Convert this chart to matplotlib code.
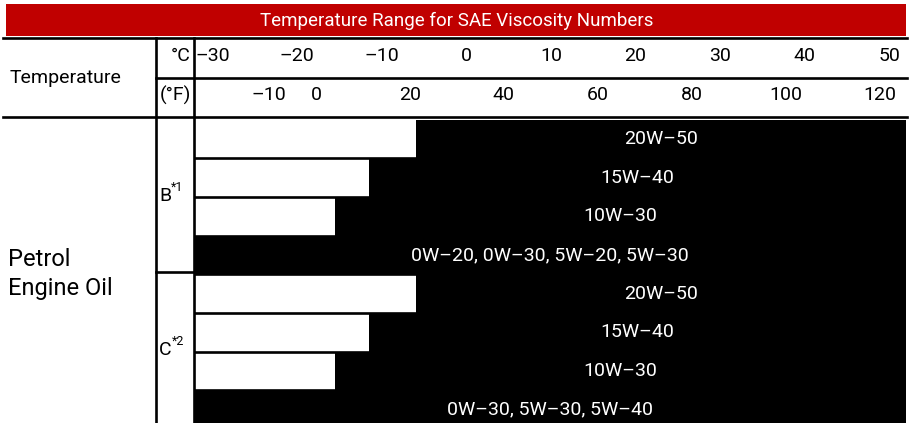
import numpy as np
import matplotlib
matplotlib.use("Agg")
import matplotlib.pyplot as plt
import matplotlib.transforms as mtransforms
from matplotlib.patches import Rectangle

plt.rcParams['font.family'] = ['Roboto', 'DejaVu Sans']

# ---- data ----
title = "Temperature Range for SAE Viscosity Numbers"
celsius_ticks = [-30, -20, -10, 0, 10, 20, 30, 40, 50]
fahrenheit_ticks = [-10, 0, 20, 40, 60, 80, 100, 120]
groups = ["B", "C"]
group_notes = ["*1", "*2"]
grades = ["20W–50", "15W–40", "10W–30", "0W–20, 0W–30, 5W–20, 5W–30",
          "20W–50", "15W–40", "10W–30", "0W–30, 5W–30, 5W–40"]
# lowest usable temperature in °C (None = whole range)
low_c = [-6, -11.5, -15.5, None, -6, -11.5, -15.5, None]
oil_label = "Petrol\nEngine Oil"

W, H = 914, 423
fig = plt.figure(figsize=(W / 100, H / 100), dpi=100)

# bar area, x in °C
T_MIN, T_MAX = -32.2, 52.0
ax = fig.add_axes([194 / W, 0, 712 / W, (H - 118) / H])
ax.set_xlim(T_MIN, T_MAX)
ax.set_ylim(7.34, -0.54)
ax.set_facecolor('white')
ax.axis('off')

rows = np.arange(len(grades))
for r, lo, name in zip(rows, low_c, grades):
    start = T_MIN if lo is None else lo
    ax.barh(r, T_MAX - start, left=start, height=1.0, color='black')
    ax.text((start + T_MAX) / 2, r, name, color='white', fontsize=14,
            ha='center', va='center')
for r in rows[:-1]:
    ax.axhline(r + 0.5, color='black', lw=1.9)

# overlay in pixel coordinates for the table frame
ov = fig.add_axes([0, 0, 1, 1])
ov.set_xlim(0, W)
ov.set_ylim(H, 0)
ov.axis('off')
ov.patch.set_visible(False)

ov.add_patch(Rectangle((6, 4), 900, 32.5, color='#C00000', lw=0))
ov.text(457, 21, title, color='white', fontsize=13.5, ha='center', va='center')

lw = 1.9
ov.plot([3, 907], [38, 38], color='black', lw=lw)
ov.plot([156, 907], [78, 78], color='black', lw=lw)
ov.plot([3, 907], [117.5, 117.5], color='black', lw=lw)
ov.plot([156, 194], [272, 272], color='black', lw=lw)
ov.plot([156, 156], [38, H], color='black', lw=lw)
ov.plot([194, 194], [38, H], color='black', lw=lw)

ov.text(65, 78, "Temperature", fontsize=14, ha='center', va='center')
ov.text(191, 56, "°C", fontsize=14, ha='right', va='center')
ov.text(191, 95, "(°F)", fontsize=14, ha='right', va='center')

# tick labels placed on the °C scale of the bar axes
trans = mtransforms.blended_transform_factory(ax.transData, ov.transData)
for c in celsius_ticks:
    ov.text(c, 56, f"{c}".replace("-", "–"), transform=trans,
            fontsize=14, ha='center', va='center')
for f in fahrenheit_ticks:
    ov.text((f - 32) * 5 / 9, 95, f"{f}".replace("-", "–"), transform=trans,
            fontsize=14, ha='center', va='center')

# group labels with superscript notes
group_y = [196, 350]
for g, note, y in zip(groups, group_notes, group_y):
    t = ov.text(159, y, g, fontsize=14, ha='left', va='center')
    ov.annotate(note, xy=(1, 1), xycoords=t, fontsize=9,
                ha='left', va='top', xytext=(0, 4), textcoords='offset points')

ov.text(8, 274, oil_label, fontsize=17, ha='left', va='center',
        linespacing=1.35)

fig.savefig("out.png", dpi=100)
